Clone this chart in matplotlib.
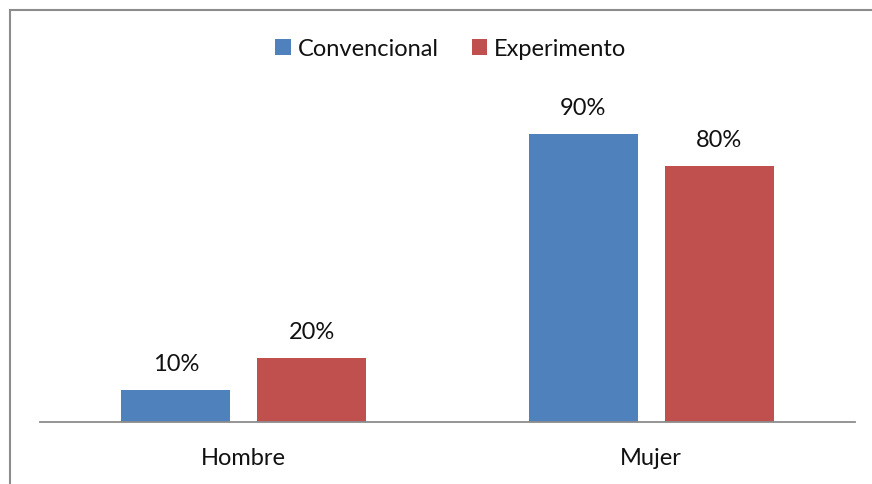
import matplotlib.pyplot as plt
import numpy as np
from matplotlib.patches import Rectangle

categories = ["Hombre", "Mujer"]
series_names = ["Convencional", "Experimento"]
convencional = [0.10, 0.90]
experimento = [0.20, 0.80]
colors = ["#4F81BD", "#C0504D"]

plt.rcParams["font.family"] = ["Lato", "DejaVu Sans"]
FS = 17

fig = plt.figure(figsize=(8.72, 4.84), dpi=100)
ax = fig.add_axes([40 / 872, 1 - 422 / 484, 815 / 872, 320 / 484])

x = np.arange(len(categories))
width = 0.2675
offset = 0.1669
for vals, name, color, dx in zip([convencional, experimento], series_names, colors, [-offset, offset]):
    bars = ax.bar(x + dx, vals, width, color=color, label=name, edgecolor="none", zorder=2)
    for b, v in zip(bars, vals):
        ax.annotate(f"{v:.0%}", (b.get_x() + b.get_width() / 2, v),
                    xytext=(0, 13.5), textcoords="offset points",
                    ha="center", va="baseline", fontsize=FS, color="#111111")

ax.set_xlim(-0.5, 1.5)
ax.set_ylim(0, 1)
ax.set_yticks([])
ax.set_xticks(x)
ax.set_xticklabels(categories, fontsize=FS, color="#111111")
ax.tick_params(axis="x", length=0, pad=19)
for side in ("top", "right", "left"):
    ax.spines[side].set_visible(False)
ax.spines["bottom"].set_color("#8C8C8C")
ax.spines["bottom"].set_linewidth(1.3)

leg = fig.legend(loc="center", bbox_to_anchor=(451 / 872, 1 - 49 / 484), ncol=2,
                 frameon=False, fontsize=FS, handlelength=0.65, handleheight=0.65,
                 handletextpad=0.3, columnspacing=1.4)
for t in leg.get_texts():
    t.set_color("#111111")

# chart frame, running off the right and bottom edges
fig.patches.append(Rectangle((9.5 / 872, -0.1), 1.2, 1.1 - 9.5 / 484,
                             transform=fig.transFigure, fill=False,
                             edgecolor="#8C8C8C", linewidth=1.5))

fig.savefig("out.png", dpi=100)
